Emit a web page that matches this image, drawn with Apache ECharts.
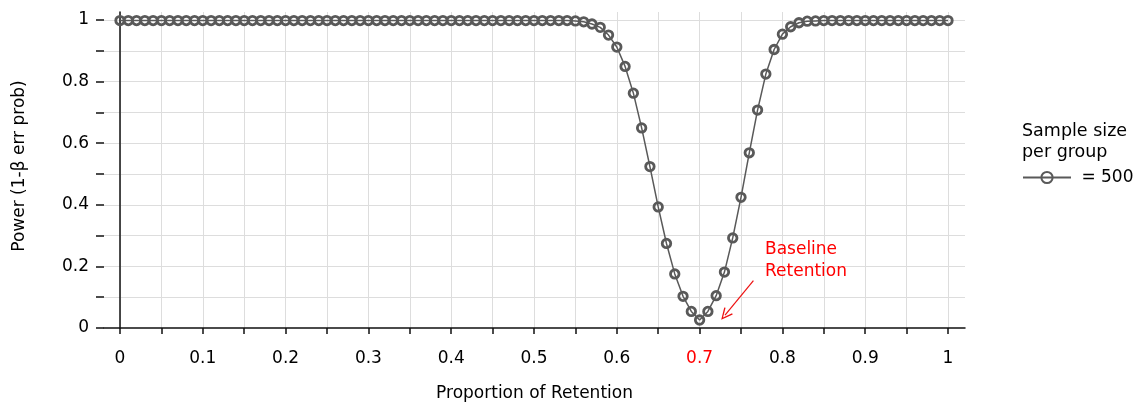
<!DOCTYPE html>
<html>
<head>
<meta charset="utf-8">
<script src="https://cdn.jsdelivr.net/npm/echarts@6/dist/echarts.min.js"></script>
<style>
  html, body { margin: 0; padding: 0; background: #fff; }
  #chart { width: 1143px; height: 408px; }
</style>
</head>
<body>
<div id="chart"></div>
<script>
// ---- data ----
const proportions = [
  0.00, 0.01, 0.02, 0.03, 0.04, 0.05, 0.06, 0.07, 0.08, 0.09,
  0.10, 0.11, 0.12, 0.13, 0.14, 0.15, 0.16, 0.17, 0.18, 0.19,
  0.20, 0.21, 0.22, 0.23, 0.24, 0.25, 0.26, 0.27, 0.28, 0.29,
  0.30, 0.31, 0.32, 0.33, 0.34, 0.35, 0.36, 0.37, 0.38, 0.39,
  0.40, 0.41, 0.42, 0.43, 0.44, 0.45, 0.46, 0.47, 0.48, 0.49,
  0.50, 0.51, 0.52, 0.53, 0.54, 0.55, 0.56, 0.57, 0.58, 0.59,
  0.60, 0.61, 0.62, 0.63, 0.64, 0.65, 0.66, 0.67, 0.68, 0.69,
  0.70, 0.71, 0.72, 0.73, 0.74, 0.75, 0.76, 0.77, 0.78, 0.79,
  0.80, 0.81, 0.82, 0.83, 0.84, 0.85, 0.86, 0.87, 0.88, 0.89,
  0.90, 0.91, 0.92, 0.93, 0.94, 0.95, 0.96, 0.97, 0.98, 0.99,
  1.00
];
const power500 = [
  1, 1, 1, 1, 1, 1, 1, 1, 1, 1,
  1, 1, 1, 1, 1, 1, 1, 1, 1, 1,
  1, 1, 1, 1, 1, 1, 1, 1, 1, 1,
  1, 1, 1, 1, 1, 1, 1, 1, 1, 1,
  1, 1, 1, 1, 1, 1, 1, 1, 1, 1,
  1, 1, 1, 1, 1, 0.999, 0.996, 0.989, 0.978, 0.953,
  0.914, 0.851, 0.764, 0.651, 0.525, 0.394, 0.275, 0.176, 0.103, 0.054,
  0.026, 0.054, 0.105, 0.182, 0.293, 0.425, 0.570, 0.709, 0.826, 0.906,
  0.956, 0.980, 0.993, 0.998, 0.999, 1, 1, 1, 1, 1,
  1, 1, 1, 1, 1, 1, 1, 1, 1, 1,
  1
];
const xTickLabels = ['0', '0.1', '0.2', '0.3', '0.4', '0.5', '0.6', '0.7', '0.8', '0.9', '1'];
const yTickLabels = ['0', '0.2', '0.4', '0.6', '0.8', '1'];
const seriesName = '= 500';
const legendTitle = 'Sample size\nper group';
const xTitle = 'Proportion of Retention';
const yTitle = 'Power (1-\u03B2 err prob)';
const annotationText = 'Baseline\nRetention';
const baselineLabel = '0.7';

// ---- chart ----
const FONT = '"DejaVu Sans", "Liberation Sans", Arial, sans-serif';
const FS = 17;
const GRID_COLOR = '#dddddd';
const SERIES_COLOR = '#595959';

const chart = echarts.init(document.getElementById('chart'), null, { renderer: 'canvas' });

const option = {
  animation: false,
  backgroundColor: '#ffffff',
  textStyle: { fontFamily: FONT },
  title: {
    text: legendTitle,
    left: 1022,
    top: 121,
    padding: 0,
    textStyle: { fontFamily: FONT, fontSize: 17.5, fontWeight: 'normal', color: '#000', lineHeight: 21 }
  },
  legend: {
    data: [seriesName],
    left: 1022,
    top: 169,
    padding: 0,
    itemWidth: 48,
    itemHeight: 14,
    formatter: (n) => ' ' + n,
    textStyle: { fontFamily: FONT, fontSize: 17, color: '#000' }
  },
  grid: [
    // grid 0: horizontal gridlines, y ticks/labels, x axis line
    { left: 104, right: 178, top: 20, bottom: 80, containLabel: false },
    // grid 1: data, vertical gridlines, x ticks/labels, full y axis line
    { left: 120, right: 195, top: 12, bottom: 80, containLabel: false }
  ],
  xAxis: [
    {
      gridIndex: 0, type: 'value', min: 0, max: 1,
      axisLine: { show: true, lineStyle: { color: '#111', width: 1.5 } },
      axisTick: { show: false }, axisLabel: { show: false }, splitLine: { show: false },
      name: xTitle, nameLocation: 'middle', nameGap: 57,
      nameTextStyle: { fontFamily: FONT, fontSize: FS, color: '#000' }
    },
    {
      gridIndex: 1, type: 'value', min: 0, max: 1, interval: 0.05,
      axisLine: { show: false },
      axisTick: { show: true, length: 6, lineStyle: { color: '#111', width: 1.5 } },
      axisLabel: {
        show: true, margin: 22, fontFamily: FONT, fontSize: FS, color: '#000',
        formatter: (v) => {
          const k = Math.round(v * 100);
          if (k % 10 !== 0) return '';
          const lbl = xTickLabels[k / 10];
          return lbl === baselineLabel ? '{red|' + lbl + '}' : lbl;
        },
        rich: { red: { color: '#ff0000', fontFamily: FONT, fontSize: FS } }
      },
      splitLine: { show: true, lineStyle: { color: GRID_COLOR, width: 1 } }
    }
  ],
  yAxis: [
    {
      gridIndex: 0, type: 'value', min: 0, max: 1, interval: 0.1,
      axisLine: { show: false },
      axisTick: { show: true, length: 8, lineStyle: { color: '#111', width: 1.5 } },
      axisLabel: {
        show: true, margin: 15, fontFamily: FONT, fontSize: FS, color: '#000',
        formatter: (v) => {
          const k = Math.round(v * 10);
          if (k % 2 !== 0) return '';
          return yTickLabels[k / 2];
        }
      },
      splitLine: { show: true, showMinLine: false, showMaxLine: true, lineStyle: { color: GRID_COLOR, width: 1 } },
      name: yTitle, nameLocation: 'middle', nameGap: 76, nameRotate: 90,
      nameTextStyle: { fontFamily: FONT, fontSize: FS, color: '#000', padding: [0, 0, 0, 16] }
    },
    {
      gridIndex: 1, type: 'value', min: 0, max: 1.028, offset: 16,
      axisLine: { show: true, lineStyle: { color: '#111', width: 1.5 } },
      axisTick: { show: false }, axisLabel: { show: false }, splitLine: { show: false }
    }
  ],
  series: [
    {
      name: seriesName,
      type: 'line',
      xAxisIndex: 1, yAxisIndex: 1,
      data: proportions.map((x, i) => [x, power500[i]]),
      symbol: 'circle',
      symbolSize: 8.5,
      clip: false,
      z: 5,
      itemStyle: { color: 'rgba(255,255,255,0)', borderColor: SERIES_COLOR, borderWidth: 2.8 },
      lineStyle: { color: SERIES_COLOR, width: 1.5 },
      emphasis: { disabled: true },
      markLine: {
        silent: true,
        animation: false,
        label: { show: false },
        lineStyle: { color: '#ee1111', width: 1.2, type: 'solid' },
        emphasis: { disabled: true },
        data: [[
          { coord: [0.765, 0.154], symbol: 'none' },
          { coord: [0.7307, 0.042], symbol: 'path://M0,0 L6,12 L4.6,12.6 L0,3 L-4.6,12.6 L-6,12 Z', symbolSize: [11, 12] }
        ]]
      }
    }
  ],
  graphic: [
    {
      type: 'text',
      left: 765,
      top: 239,
      silent: true,
      z: 100,
      style: { text: annotationText, fill: '#ff0000', font: FS + 'px ' + FONT, lineHeight: 22 }
    }
  ]
};

chart.setOption(option);
</script>
</body>
</html>
